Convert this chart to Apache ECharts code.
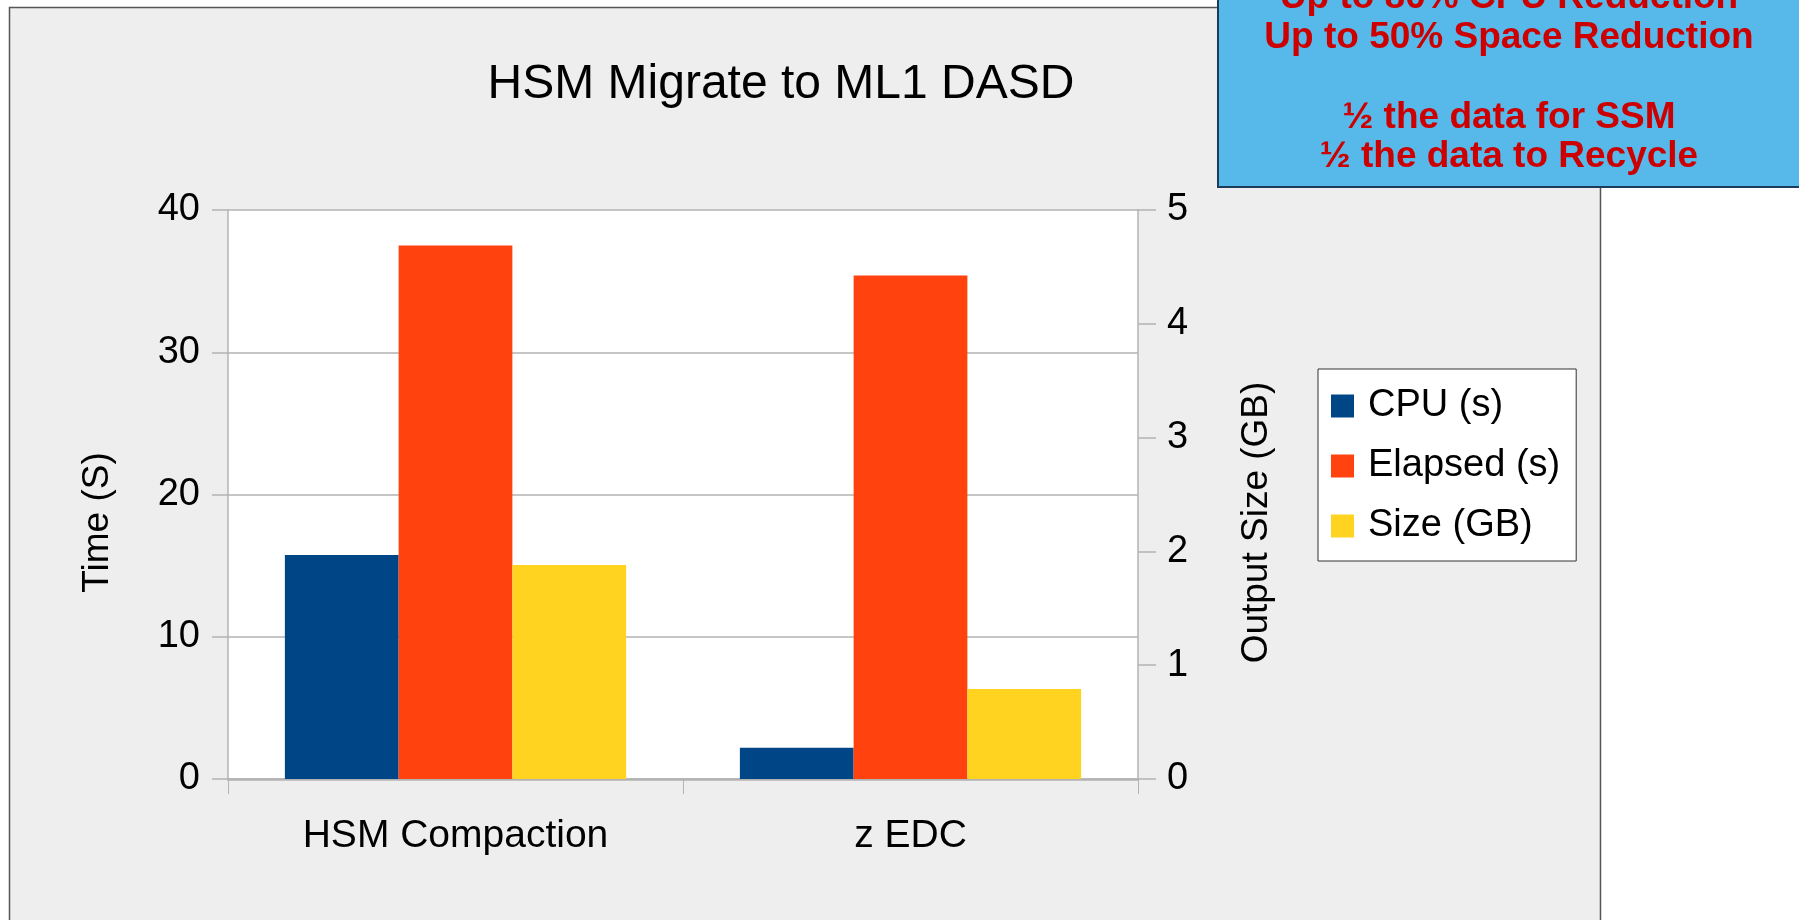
<!DOCTYPE html>
<html>
<head>
<meta charset="utf-8">
<script src="https://cdn.jsdelivr.net/npm/echarts@6/dist/echarts.min.js"></script>
<style>
html,body{margin:0;padding:0;background:#fff;}
#chart{width:1799px;height:920px;}
</style>
</head>
<body>
<div id="chart"></div>
<script>
const titleText = 'HSM Migrate to ML1 DASD';
const categories = ['HSM Compaction', 'z EDC'];
const seriesNames = ['CPU (s)', 'Elapsed (s)', 'Size (GB)'];
const cpuSeconds = [15.75, 2.2];
const elapsedSeconds = [37.5, 35.4];
const sizeGB = [1.88, 0.79];
const leftAxisName = 'Time (S)';
const rightAxisName = 'Output Size (GB)';
const calloutLines = ['Up to 80% CPU Reduction', 'Up to 50% Space Reduction', '', '\u00BD the data for SSM', '\u00BD the data to Recycle'];

const FONT = '"Liberation Sans", Arial, sans-serif';
const colors = ['#004586', '#ff420e', '#ffd320'];
const gridGray = '#b3b3b3';

const calloutTexts = calloutLines.map((t, i) => ({
  type: 'text',
  z: 101,
  style: {
    text: t,
    x: 1509,
    y: -2 + i * 39.8,
    align: 'center',
    verticalAlign: 'middle',
    fill: '#cc0000',
    font: 'bold 37px ' + FONT
  }
}));

const chart = echarts.init(document.getElementById('chart'), null, {renderer: 'canvas'});
chart.setOption({
  backgroundColor: '#ffffff',
  animation: false,
  color: colors,
  textStyle: {fontFamily: FONT, color: '#000'},
  title: {
    text: titleText,
    left: 781,
    top: 61,
    textAlign: 'center',
    padding: 0,
    textStyle: {fontSize: 48, fontWeight: 'normal', color: '#000', fontFamily: FONT, lineHeight: 48}
  },
  graphic: [
    {
      type: 'rect', z: -10, silent: true,
      shape: {x: 9.5, y: 7.5, width: 1591, height: 930},
      style: {fill: '#eeeeee', stroke: '#555555', lineWidth: 1.5}
    },
    {
      type: 'rect', z: 100, silent: true,
      shape: {x: 1218, y: -20, width: 620, height: 207},
      style: {fill: '#56b9e9', stroke: '#1d3c5c', lineWidth: 2}
    }
  ].concat(calloutTexts),
  legend: {
    orient: 'vertical',
    left: 1318,
    top: 369,
    data: seriesNames,
    backgroundColor: '#ffffff',
    borderColor: '#333333',
    borderWidth: 1,
    padding: [17, 16, 15, 13],
    itemWidth: 23,
    itemHeight: 23,
    itemGap: 20,
    icon: 'rect',
    textStyle: {fontSize: 38, lineHeight: 40, color: '#000', fontFamily: FONT, padding: [0, 0, 0, 9]}
  },
  grid: {
    left: 228, right: 661, top: 210, bottom: 141,
    show: true, backgroundColor: '#ffffff', borderWidth: 0
  },
  xAxis: {
    type: 'category',
    data: categories,
    axisLine: {show: true, lineStyle: {color: gridGray, width: 2.5}},
    axisTick: {show: true, inside: false, length: 15, lineStyle: {color: gridGray, width: 1}},
    axisLabel: {fontSize: 39, margin: 38, color: '#000', fontFamily: FONT},
    splitLine: {show: false}
  },
  yAxis: [
    {
      type: 'value', position: 'left', min: 0, max: 40, interval: 10,
      name: leftAxisName, nameLocation: 'middle', nameGap: 112,
      nameTextStyle: {fontSize: 37, color: '#000', fontFamily: FONT, padding: [0, 56, 0, 0]},
      axisLine: {show: true, lineStyle: {color: gridGray, width: 1.5}},
      axisTick: {show: true, inside: false, length: 16, lineStyle: {color: gridGray, width: 1.5}},
      axisLabel: {fontSize: 38, margin: 28, color: '#000', fontFamily: FONT},
      splitLine: {show: true, lineStyle: {color: gridGray, width: 1.5}}
    },
    {
      type: 'value', position: 'right', min: 0, max: 5, interval: 1,
      name: rightAxisName, nameLocation: 'middle', nameGap: 100,
      nameTextStyle: {fontSize: 37, color: '#000', fontFamily: FONT, padding: [0, 56, 0, 0]},
      axisLine: {show: true, lineStyle: {color: gridGray, width: 1.5}},
      axisTick: {show: true, inside: false, length: 18, lineStyle: {color: gridGray, width: 1.5}},
      axisLabel: {fontSize: 38, margin: 29, color: '#000', fontFamily: FONT},
      splitLine: {show: false}
    }
  ],
  series: [
    {name: seriesNames[0], type: 'bar', yAxisIndex: 0, data: cpuSeconds, barGap: '0%', barCategoryGap: '25%', itemStyle: {color: colors[0]}},
    {name: seriesNames[1], type: 'bar', yAxisIndex: 0, data: elapsedSeconds, barGap: '0%', barCategoryGap: '25%', itemStyle: {color: colors[1]}},
    {name: seriesNames[2], type: 'bar', yAxisIndex: 1, data: sizeGB, barGap: '0%', barCategoryGap: '25%', itemStyle: {color: colors[2]}}
  ]
});
</script>
</body>
</html>
